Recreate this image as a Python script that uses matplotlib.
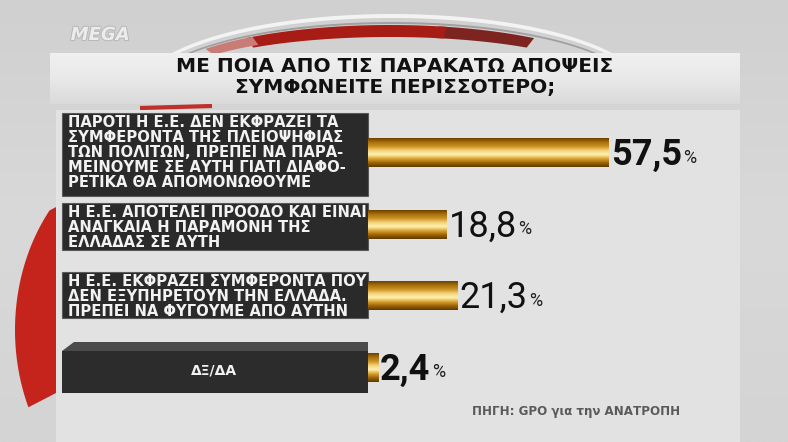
import numpy as np
import matplotlib
matplotlib.use("Agg")
from matplotlib import pyplot as plt
from matplotlib.patches import Rectangle, Polygon
from matplotlib.colors import LinearSegmentedColormap
import matplotlib.patheffects as pe

title = "ΜΕ ΠΟΙΑ ΑΠΟ ΤΙΣ ΠΑΡΑΚΑΤΩ ΑΠΟΨΕΙΣ\nΣΥΜΦΩΝΕΙΤΕ ΠΕΡΙΣΣΟΤΕΡΟ;"
labels = [
    "ΠΑΡΟΤΙ Η Ε.Ε. ΔΕΝ ΕΚΦΡΑΖΕΙ ΤΑ\nΣΥΜΦΕΡΟΝΤΑ ΤΗΣ ΠΛΕΙΟΨΗΦΙΑΣ\nΤΩΝ ΠΟΛΙΤΩΝ, ΠΡΕΠΕΙ ΝΑ ΠΑΡΑ-\n"
    "ΜΕΙΝΟΥΜΕ ΣΕ ΑΥΤΗ ΓΙΑΤΙ ΔΙΑΦΟ-\nΡΕΤΙΚΑ ΘΑ ΑΠΟΜΟΝΩΘΟΥΜΕ",
    "Η Ε.Ε. ΑΠΟΤΕΛΕΙ ΠΡΟΟΔΟ ΚΑΙ ΕΙΝΑΙ\nΑΝΑΓΚΑΙΑ Η ΠΑΡΑΜΟΝΗ ΤΗΣ\nΕΛΛΑΔΑΣ ΣΕ ΑΥΤΗ",
    "Η Ε.Ε. ΕΚΦΡΑΖΕΙ ΣΥΜΦΕΡΟΝΤΑ ΠΟΥ\nΔΕΝ ΕΞΥΠΗΡΕΤΟΥΝ ΤΗΝ ΕΛΛΑΔΑ.\nΠΡΕΠΕΙ ΝΑ ΦΥΓΟΥΜΕ ΑΠΟ ΑΥΤΗΝ",
    "ΔΞ/ΔΑ",
]
values = [57.5, 18.8, 21.3, 2.4]
value_text = ["57,5", "18,8", "21,3", "2,4"]
source = "ΠΗΓΗ: GPO για την ΑΝΑΤΡΟΠΗ"

# label box layout in pixels (top, bottom)
boxes = [(113, 196), (203, 250), (272, 318), (342, 393)]
num_weight = ["bold", "normal", "normal", "bold"]

W, H = 788, 442
fig = plt.figure(figsize=(W / 100, H / 100), dpi=100)
fig.patch.set_facecolor("#d4d4d4")

bg = fig.add_axes([0, 0, 1, 1])
bg.set_xlim(0, W)
bg.set_ylim(H, 0)
bg.axis("off")


def ell(cx, cy, a, b, t1, t2, n=80):
    # points on an ellipse, t in degrees, 90 = top of the picture
    t = np.deg2rad(np.linspace(t1, t2, n))
    return np.column_stack([cx + a * np.cos(t), cy - b * np.sin(t)])


def band(cx, cy, a, b, th, t1, t2, color, z=1):
    pts = np.vstack([ell(cx, cy, a, b, t1, t2), ell(cx, cy, a - th, b - th, t2, t1)])
    bg.add_patch(Polygon(pts, closed=True, facecolor=color, edgecolor="none", zorder=z))


grad = np.linspace(0, 1, 256).reshape(-1, 1)
bg.imshow(grad, extent=[0, W, H, 0], aspect="auto",
          cmap=LinearSegmentedColormap.from_list("bgc", ["#d0d0d0", "#d9d9d9", "#d4d4d4"]), zorder=0)

# top swoosh
band(392, 92, 254, 78, 4, 18, 165, "#f3f3f3")
band(392, 92, 246, 70, 2, 22, 158, "#a0a0a0")
band(390, 87, 234, 62, 12, 52, 78, "#7d2320")
band(390, 87, 234, 62, 12, 76, 128, "#a81c16")
band(390, 87, 234, 62, 10, 126, 142, "#c97c76")
bg.plot([140, 212], [108, 106], color="#c0302a", lw=3, solid_capstyle="butt", zorder=1)

# left red crescent
outer = ell(170, 330, 155, 190, 141, 204, 60)
crescent = np.vstack([outer, [[58, 392], [58, 206]]])
bg.add_patch(Polygon(crescent, closed=True, facecolor="#c4241b", edgecolor="none", zorder=1))

# main lighter panel and title band
bg.add_patch(Rectangle((56, 110), 684, 340, facecolor="#e2e2e2", edgecolor="none", zorder=2))
bg.imshow(grad, extent=[50, 740, 104, 53], aspect="auto",
          cmap=LinearSegmentedColormap.from_list("tb", ["#f0f0f0", "#e9e9e9", "#dadada"]), zorder=2)

bg.text(100, 35, "MEGA", fontsize=13, fontweight="bold", fontstyle="italic", color="#ececec",
        ha="center", va="center",
        path_effects=[pe.withStroke(linewidth=1.5, foreground="#b8b8b8")], zorder=3)

bg.text(395, 77, title, fontsize=14.5, fontweight="bold", color="#111111",
        ha="center", va="center", linespacing=1.1, zorder=4)

# label boxes
for i, (top, bot) in enumerate(boxes):
    if i == 3:
        bg.add_patch(Rectangle((62, top + 9), 306, bot - top - 9, facecolor="#2c2c2c",
                               edgecolor="none", zorder=4))
        bg.add_patch(Polygon([(62, top + 9), (74, top), (368, top), (368, top + 9)],
                             facecolor="#4b4b4b", edgecolor="none", zorder=4))
        bg.text(214, (top + bot) / 2 + 3, labels[i], fontsize=10, fontweight="bold",
                color="#f2f2f2", ha="center", va="center", zorder=5)
    else:
        bg.add_patch(Rectangle((62, top), 306, bot - top, facecolor="#2a2a2a",
                               edgecolor="#5a5a5a", lw=0.8, zorder=4))
        bg.text(68, top + 2, labels[i], fontsize=10.6, fontweight="bold", color="#f2f2f2",
                ha="left", va="top", linespacing=1.0, zorder=5)

bg.text(472, 411, source, fontsize=8.6, fontweight="bold", color="#5a5a5a",
        ha="left", va="center", zorder=5)

# bars axes: value 0 at x=368 px, ~4.19 px per unit
x0, px_per = 368, 4.19
ax = fig.add_axes([x0 / W, 1 - 403 / H, 100 * px_per / W, 286 / H])
ax.patch.set_alpha(0)
ax.axis("off")

gold = LinearSegmentedColormap.from_list(
    "gold", ["#6a4100", "#a8700c", "#c99222", "#f3d27a", "#fff2b0", "#d9a232", "#9a6406", "#5e3a00"])
ypos = np.arange(len(values))
bars = ax.barh(ypos, values, height=0.4, color="#b07a10", zorder=2)
for b in bars:
    x, y = b.get_x(), b.get_y()
    w, h = b.get_width(), b.get_height()
    im = ax.imshow(grad, extent=[x, x + w, y + h, y], aspect="auto", cmap=gold, zorder=3)
    im.set_clip_path(b)

for i, v in enumerate(values):
    t = ax.text(v + 0.5, i + 0.03, value_text[i], fontsize=26, fontweight=num_weight[i],
                family=["Roboto", "DejaVu Sans"], color="#111111",
                ha="left", va="center", zorder=4)
    ax.annotate("%", xy=(1, 0.17), xycoords=t, xytext=(1, 0), textcoords="offset points",
                fontsize=13, family=["Roboto", "DejaVu Sans"], color="#222222",
                ha="left", va="bottom", zorder=4)

ax.set_xlim(0, 100)
ax.set_ylim(3.5, -0.5)

fig.savefig("out.png", dpi=100, facecolor=fig.get_facecolor())
